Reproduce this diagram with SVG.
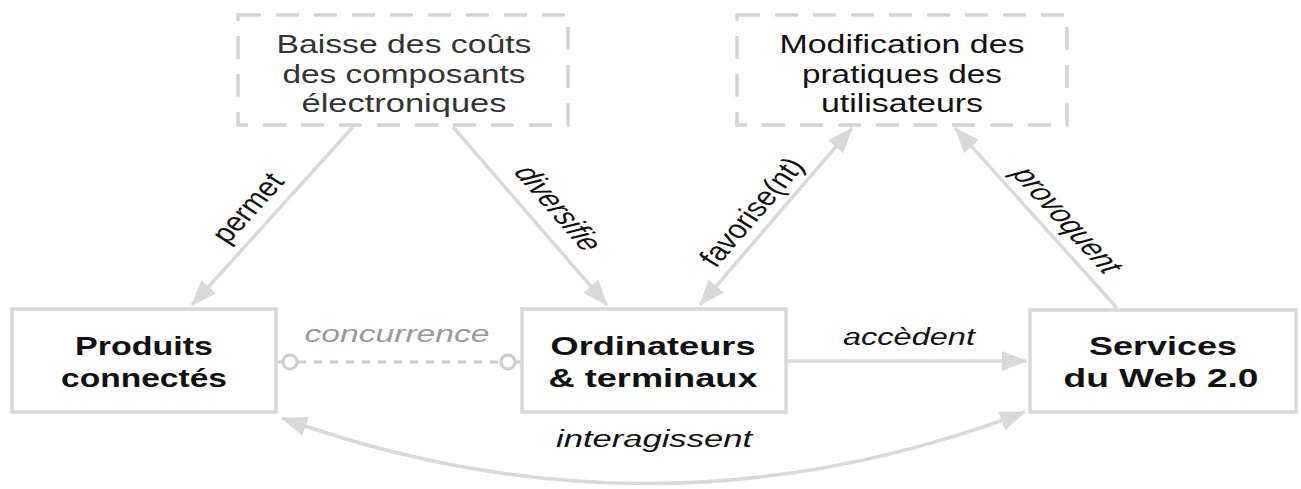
<svg xmlns="http://www.w3.org/2000/svg" width="1301" height="489" viewBox="0 0 1301 489">
  <style>
    .bg { fill: #ffffff; }
    .box { fill: #ffffff; stroke: #d8d8d8; stroke-width: 3.5; }
    .dbox { fill: #ffffff; stroke: #d4d4d4; stroke-width: 3.5; stroke-dasharray: 23 15; }
    .ttl { font-family: "Liberation Sans", Arial, sans-serif; font-size: 26px; text-anchor: middle; }
    .bold { font-family: "Liberation Sans", Arial, sans-serif; font-size: 26px; font-weight: bold; text-anchor: middle; fill: #111111; }
    .lbl { font-family: "Liberation Sans", Arial, sans-serif; font-size: 23px; font-style: italic; text-anchor: middle; fill: #111111; }
    .rl { font-size: 24px; dominant-baseline: central; }
    .edge { fill: none; stroke: #d9d9d9; stroke-width: 3.5; }
    .dash { fill: none; stroke: #cccccc; stroke-width: 3; stroke-dasharray: 8 8; }
    .ring { fill: #ffffff; stroke: #cccccc; stroke-width: 3; }
  </style>
  <defs>
    <marker id="arr" markerUnits="userSpaceOnUse" markerWidth="26" markerHeight="22" viewBox="0 0 26 22" refX="25" refY="11" orient="auto-start-reverse">
      <path d="M0,1 L26,11 L0,21 Z" fill="#d9d9d9"/>
    </marker>
  </defs>

  <rect class="bg" x="0" y="0" width="1301" height="489"/>

  <!-- connectors -->
  <g id="connectors">
    <line class="edge" x1="353" y1="127" x2="192" y2="305" marker-end="url(#arr)"/>
    <line class="edge" x1="453" y1="127" x2="607" y2="305" marker-end="url(#arr)"/>
    <line class="edge" x1="700" y1="305" x2="852" y2="128" marker-start="url(#arr)" marker-end="url(#arr)"/>
    <line class="edge" x1="1117" y1="308" x2="955" y2="128" marker-end="url(#arr)"/>
    <line class="edge" x1="786" y1="361" x2="1027" y2="361" marker-end="url(#arr)"/>
    <path class="edge" d="M282,418 Q655,552 1025,412" marker-start="url(#arr)" marker-end="url(#arr)"/>
    <line class="dash" x1="298" y1="362" x2="500" y2="362"/>
    <line x1="276" y1="362" x2="283" y2="362" stroke="#cccccc" stroke-width="3"/>
    <line x1="515" y1="362" x2="522" y2="362" stroke="#cccccc" stroke-width="3"/>
    <circle class="ring" cx="290" cy="362" r="7"/>
    <circle class="ring" cx="508" cy="362" r="7"/>

    <text class="lbl rl" transform="translate(247,208) scale(1.45,1) rotate(-57.6)">permet</text>
    <text class="lbl rl" transform="translate(559,208) scale(1.45,1) rotate(58.8)">diversifie</text>
    <text class="lbl rl" transform="translate(751,212) scale(1.45,1) rotate(-59)">favorise(nt)</text>
    <text class="lbl rl" transform="translate(1068,220) scale(1.45,1) rotate(57.6)">provoquent</text>
    <text class="lbl" x="909" y="345" textLength="132" lengthAdjust="spacingAndGlyphs">accèdent</text>
    <text class="lbl" x="397" y="342" textLength="185" lengthAdjust="spacingAndGlyphs" style="fill:#999999">concurrence</text>
    <text class="lbl" x="654" y="447" textLength="196" lengthAdjust="spacingAndGlyphs">interagissent</text>
  </g>

  <!-- cause: falling component costs -->
  <g id="node-couts">
    <rect class="dbox" x="238" y="15" width="330" height="110"/>
    <text class="ttl" fill="#333333" x="404" y="53" textLength="255" lengthAdjust="spacingAndGlyphs">Baisse des coûts</text>
    <text class="ttl" fill="#333333" x="404" y="83" textLength="243" lengthAdjust="spacingAndGlyphs">des composants</text>
    <text class="ttl" fill="#333333" x="404" y="112" textLength="205" lengthAdjust="spacingAndGlyphs">électroniques</text>
  </g>

  <!-- effect: changing user habits -->
  <g id="node-pratiques">
    <rect class="dbox" x="737" y="15" width="330" height="110"/>
    <text class="ttl" fill="#111111" x="902" y="53" textLength="245" lengthAdjust="spacingAndGlyphs">Modification des</text>
    <text class="ttl" fill="#111111" x="902" y="83" textLength="200" lengthAdjust="spacingAndGlyphs">pratiques des</text>
    <text class="ttl" fill="#111111" x="902" y="112" textLength="162" lengthAdjust="spacingAndGlyphs">utilisateurs</text>
  </g>

  <g id="node-produits">
    <rect class="box" x="12" y="309" width="264" height="103"/>
    <text class="bold" x="144" y="355" textLength="138" lengthAdjust="spacingAndGlyphs">Produits</text>
    <text class="bold" x="144" y="387" textLength="166" lengthAdjust="spacingAndGlyphs">connectés</text>
  </g>

  <g id="node-ordinateurs">
    <rect class="box" x="522" y="309" width="264" height="103"/>
    <text class="bold" x="653" y="355" textLength="205" lengthAdjust="spacingAndGlyphs">Ordinateurs</text>
    <text class="bold" x="653" y="387" textLength="209" lengthAdjust="spacingAndGlyphs">&amp; terminaux</text>
  </g>

  <g id="node-services">
    <rect class="box" x="1030" y="310" width="266" height="102"/>
    <text class="bold" x="1163" y="355" textLength="148" lengthAdjust="spacingAndGlyphs">Services</text>
    <text class="bold" x="1161" y="387" textLength="195" lengthAdjust="spacingAndGlyphs">du Web 2.0</text>
  </g>
</svg>
